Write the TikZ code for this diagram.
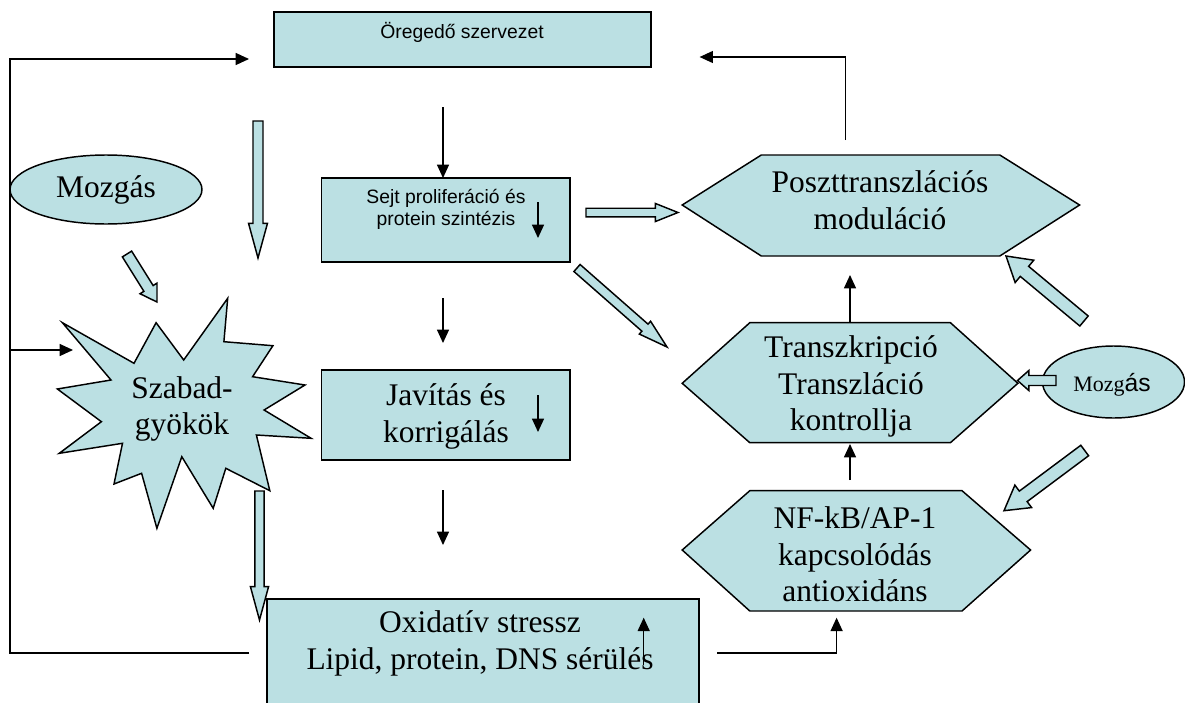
\documentclass[tikz,border=0pt]{standalone}
\usepackage{fontspec}
\setmainfont{Liberation Serif}
\setsansfont{Liberation Sans}
\usetikzlibrary{calc,shapes.geometric,arrows.meta}
\definecolor{lb}{RGB}{187,224,227}
\tikzset{
 shp/.style={draw=black, fill=lb, line width=1.1pt, line join=miter},
 boxn/.style={shp, rectangle, inner sep=0pt},
 ell/.style={shp, ellipse, inner sep=0pt},
 barrow/.style={draw=black, fill=lb, line width=1.1pt, line join=miter},
 thinarr/.style={line width=0.9pt, -{Triangle[length=10pt,width=9pt]}},
 plainline/.style={line width=0.9pt},
 sertxt/.style={font=\fontsize{23.6}{27.5}\selectfont, align=center, inner sep=0pt},
 santxt/.style={font=\sffamily\fontsize{14.5}{16.5}\selectfont, align=center, inner sep=0pt},
}
% block arrow: tail, tip, half shaft, half head, head length (pt)
\newcommand\blockarr[5]{%
 \coordinate (bt) at #1; \coordinate (bp) at #2;
 \coordinate (bh) at ($(bp)!#5!(bt)$);
 \draw[barrow] ($(bt)!#3!90:(bp)$) -- ($(bh)!#3!90:(bp)$) -- ($(bh)!#4!90:(bp)$) -- (bp)
   -- ($(bh)!#4!-90:(bp)$) -- ($(bh)!#3!-90:(bp)$) -- ($(bt)!#3!-90:(bp)$) -- cycle;}
\begin{document}
\begin{tikzpicture}[x=0.75pt,y=-0.75pt]
\useasboundingbox (0,0) rectangle (1185,703);

% rectangles
\node[boxn, minimum width=282.75pt, minimum height=41.25pt] (oreg) at (462.5,39.5) {};
\node[boxn, minimum width=186.4pt, minimum height=63pt] (sejt) at (445.75,220) {};
\node[boxn, minimum width=186.4pt, minimum height=67.5pt] (jav) at (445.75,415) {};
\node[boxn, minimum width=324pt, minimum height=98.25pt] (oxid) at (483,664.5) {};

% ellipses
\node[ell, minimum width=144pt, minimum height=51.75pt] (mozg1) at (106,189.5) {};
\node[ell, minimum width=106.5pt, minimum height=54pt] (mozg2) at (1113.5,382) {};

% star
\draw[shp] (227.7,298.3) -- (223.9,341.7) -- (272.9,345.7) -- (252.6,376.7) -- (305,385)
 -- (264.1,410) -- (311.1,438.3) -- (256.4,435) -- (269.8,490.7) -- (225.8,468.3)
 -- (213.2,508.3) -- (181.8,456.7) -- (156.9,528.3) -- (141.6,473.3) -- (114,484)
 -- (122.5,443.3) -- (59.3,453.3) -- (101.4,421.7) -- (57.4,389) -- (111,380)
 -- (62.4,322.7) -- (134,363.3) -- (156.1,322.7) -- (183.7,360) -- cycle;

% hexagons
\draw[shp] (682.2,205) -- (761.3,155) -- (999.8,155) -- (1079.6,205) -- (999.8,256) -- (761.3,256) -- cycle;
\draw[shp] (682.2,383.3) -- (749.8,322.7) -- (950.4,322.7) -- (1017.9,383.3) -- (950.4,442.7) -- (749.8,442.7) -- cycle;
\draw[shp] (682.2,550) -- (749.8,490.7) -- (962,490.7) -- (1030.6,550) -- (962,611) -- (749.8,611) -- cycle;

% texts
\node[santxt] (oreg-t) at (462,32) {Öregedő szervezet};
\node[santxt] (sejt-t) at (446,209) {Sejt proliferáció és\\protein szintézis};
\node[sertxt] (jav-t) at (446,416.5) {Javítás és\\korrigálás};
\node[sertxt] (oxid-t) at (480,643.5) {Oxidatív stressz\\Lipid, protein, DNS sérülés};
\node[sertxt] (mozg1-t) at (106,190) {Mozgás};
\node[sertxt] (star-t) at (182,409) {Szabad-\\gyökök};
\node[sertxt] (poszt-t) at (880,200) {Poszttranszlációs\\moduláció};
\node[sertxt] (transz-t) at (851,386.7) {Transzkripció\\Transzláció\\kontrollja};
\node[sertxt] (nf-t) at (855,554.3) {NF-kB/AP-1\\kapcsolódás\\antioxidáns};
\node[inner sep=0pt] (mozg2-t) at (1112,385) {{\fontsize{16.5}{20}\selectfont Mozg}{\sffamily\fontsize{18.5}{20}\selectfont ás}};

% feedback lines
\coordinate (fbA) at (249,653);
\coordinate (fbB) at (10,653);
\coordinate (fbC) at (10,59);
\coordinate (fbD) at (249,59);
\coordinate (fbE) at (10,350);
\coordinate (fbF) at (73,350);
\draw[thinarr] (fbA) -- (fbB) -- (fbC) -- (fbD);
\draw[thinarr] (fbE) -- (fbF);

\coordinate (pzA) at (845.4,140);
\coordinate (pzB) at (699.6,57);
\draw[thinarr] (pzA) |- (pzB);

\coordinate (oxA) at (717,653);
\coordinate (oxB) at (836.6,617.7);
\draw[thinarr] (oxA) -| (oxB);

% thin vertical arrows
\coordinate (v1a) at (443,107);
\draw[thinarr] (v1a) -- (443,178);
\coordinate (v2a) at (443,298); \coordinate (v2b) at (443,343);
\draw[thinarr] (v2a) -- (v2b);
\coordinate (v3a) at (443,490); \coordinate (v3b) at (443,545);
\draw[thinarr] (v3a) -- (v3b);
\coordinate (v4a) at (850,321.7); \coordinate (v4b) at (850,275);
\draw[thinarr] (v4a) -- (v4b);
\coordinate (v5a) at (850,480); \coordinate (v5b) at (850,444);
\draw[thinarr] (v5a) -- (v5b);

% small arrows in boxes
\coordinate (s1a) at (538,202); \coordinate (s1b) at (538,238);
\draw[thinarr] (s1a) -- (s1b);
\coordinate (s2a) at (538,395); \coordinate (s2b) at (538,432);
\draw[thinarr] (s2a) -- (s2b);
\coordinate (s3a) at (643.7,665); \coordinate (s3b) at (643.7,617.7);
\draw[thinarr] (s3a) -- (s3b);

% block arrows
\blockarr{(258,121)}{(258,258)}{3.75pt}{7.1pt}{26pt}
\blockarr{(127,254)}{(157,302)}{4.1pt}{7.5pt}{12pt}
\blockarr{(259.5,491)}{(259.5,620)}{3.4pt}{6.8pt}{25pt}
\blockarr{(586,212.5)}{(678,212.5)}{3.2pt}{6.8pt}{17pt}
\blockarr{(577,268)}{(667,347)}{3.5pt}{6.4pt}{22pt}
\blockarr{(1084,321)}{(1006,256)}{4.9pt}{10.9pt}{18pt}
\blockarr{(1056,380.5)}{(1017.5,380.5)}{3.75pt}{7.5pt}{8.5pt}
\blockarr{(1084.7,450.5)}{(1004,510.7)}{4.9pt}{10.5pt}{18pt}
\end{tikzpicture}
\end{document}
